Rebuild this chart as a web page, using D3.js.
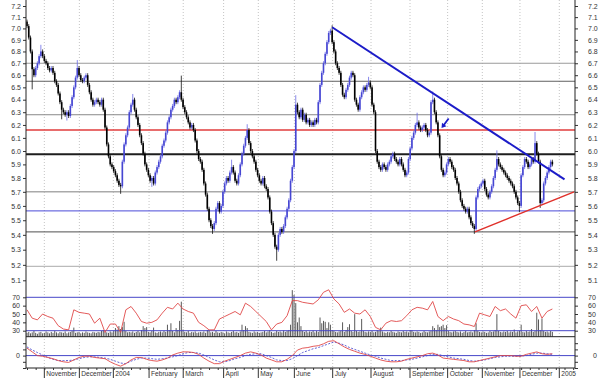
<!DOCTYPE html>
<html>
<head>
<meta charset="utf-8">
<script src="https://cdn.jsdelivr.net/npm/d3@7"></script>
<style>
body { margin: 0; background: #fff; }
svg text { font-family: "Liberation Sans", Arial, sans-serif; font-size: 7px; fill: #333; }
</style>
</head>
<body>
<svg id="chart" width="600" height="378"></svg>
<script>
// daily closes, one per trading day (Oct 2003 - Dec 2004)
const closes = [
    7.02, 6.92, 6.80, 6.65, 6.60, 6.66, 6.70, 6.76, 6.80, 6.76,
    6.72, 6.70, 6.66, 6.64, 6.66, 6.62, 6.55, 6.52, 6.45, 6.38,
    6.32, 6.30, 6.28, 6.30, 6.27, 6.35, 6.42, 6.50, 6.58, 6.66,
    6.60, 6.56, 6.55, 6.58, 6.60, 6.52, 6.46, 6.40, 6.36, 6.38,
    6.40, 6.38, 6.36, 6.40, 6.32, 6.18, 6.05, 5.96, 5.90, 5.88,
    5.85, 5.82, 5.78, 5.75, 5.74, 5.92, 6.05, 6.12, 6.18, 6.30,
    6.36, 6.40, 6.32, 6.26, 6.20, 6.12, 6.06, 5.98, 5.90, 5.86,
    5.82, 5.78, 5.80, 5.76, 5.84, 5.88, 5.92, 5.96, 6.04, 6.08,
    6.14, 6.22, 6.26, 6.32, 6.35, 6.40, 6.38, 6.42, 6.46, 6.40,
    6.34, 6.30, 6.26, 6.22, 6.18, 6.20, 6.16, 6.08, 6.00, 5.94,
    5.92, 5.86, 5.76, 5.68, 5.58, 5.50, 5.46, 5.44, 5.48, 5.58,
    5.62, 5.56, 5.60, 5.70, 5.76, 5.80, 5.78, 5.84, 5.88, 5.84,
    5.78, 5.76, 5.82, 5.90, 5.98, 6.04, 6.10, 6.16, 6.06, 6.00,
    5.96, 5.92, 5.86, 5.82, 5.78, 5.76, 5.80, 5.74, 5.72, 5.66,
    5.56, 5.48, 5.40, 5.32, 5.30, 5.40, 5.44, 5.42, 5.46, 5.52,
    5.58, 5.64, 5.78, 5.88, 6.00, 6.36, 6.30, 6.26, 6.32, 6.24,
    6.28, 6.22, 6.24, 6.20, 6.22, 6.20, 6.24, 6.22, 6.38, 6.52,
    6.62, 6.70, 6.78, 6.88, 6.96, 6.98, 6.88, 6.80, 6.70, 6.66,
    6.62, 6.52, 6.44, 6.42, 6.48, 6.52, 6.58, 6.62, 6.60, 6.40,
    6.36, 6.32, 6.42, 6.46, 6.50, 6.48, 6.52, 6.54, 6.50, 6.36,
    6.30, 6.00, 5.92, 5.88, 5.86, 5.90, 5.88, 5.86, 5.90, 5.92,
    5.96, 5.98, 5.94, 5.92, 5.90, 5.94, 5.90, 5.86, 5.82, 5.84,
    5.94, 6.02, 6.10, 6.14, 6.20, 6.22, 6.18, 6.16, 6.18, 6.20,
    6.16, 6.12, 6.14, 6.38, 6.40, 6.30, 6.22, 6.12, 5.96, 5.86,
    5.82, 5.84, 5.90, 5.94, 5.92, 5.88, 5.86, 5.80, 5.76, 5.70,
    5.64, 5.60, 5.58, 5.56, 5.58, 5.52, 5.48, 5.46, 5.44, 5.66,
    5.72, 5.74, 5.76, 5.78, 5.72, 5.68, 5.66, 5.70, 5.74, 5.80,
    5.86, 5.94, 5.90, 5.88, 5.86, 5.84, 5.82, 5.80, 5.78, 5.76,
    5.74, 5.70, 5.66, 5.62, 5.60, 5.82, 5.88, 5.94, 5.92, 5.88,
    5.90, 5.94, 5.92, 6.06, 5.98, 5.92, 5.62, 5.64, 5.76, 5.80,
    5.84, 5.88, 5.92, 5.90
];
const firstOpen = 7.06;

// long shadows that stick out of the bodies
const wicks = [
    { i: 3, lo: 6.50 }, { i: 8, hi: 6.84 }, { i: 20, lo: 6.26 }, { i: 23, lo: 6.25 },
    { i: 29, hi: 6.71 }, { i: 54, lo: 5.70 }, { i: 61, hi: 6.43 }, { i: 72, lo: 5.75 },
    { i: 89, hi: 6.58 }, { i: 107, lo: 5.42 }, { i: 118, hi: 5.92 }, { i: 127, hi: 6.19 },
    { i: 144, lo: 5.24 }, { i: 155, hi: 6.42 }, { i: 176, hi: 7.01 }, { i: 197, hi: 6.57 },
    { i: 225, hi: 6.28 }, { i: 234, hi: 6.45 }, { i: 258, lo: 5.42 }, { i: 271, hi: 5.99 },
    { i: 284, lo: 5.57 }, { i: 293, hi: 6.13 }, { i: 296, lo: 5.60 }
];

const volumes = [
    8,10,7,9,12,8,6,9,10,7, 8,11,9,7,10,8,12,9,7,10,
    9,8,11,7,9,10,12,19,8,9, 10,7,9,8,11,9,8,7,10,9,
    8,10,9,12,14,10,9,8,11,9, 12,18,15,22,16,20,31,12,9,10,
    9,11,8,10,12,9,14,22,18,20, 10,9,12,19,9,8,10,11,9,12,
    10,25,14,28,12,9,18,14,33,73, 15,10,9,12,8,10,9,11,8,9,
    10,9,11,8,14,14,9,10,8,12, 9,8,10,9,7,11,9,8,10,12,
    9,10,8,11,25,14,22,18,10,9, 8,11,9,10,8,9,10,12,9,11,
    14,10,8,9,12,10,11,9,13,10, 12,14,25,97,87,70,30,40,22,12,
    10,12,9,11,10,13,9,12,10,40, 28,33,31,18,30,25,14,12,10,9,
    11,12,30,10,14,20,26,12,10,47, 12,10,11,37,12,10,9,11,10,12,
    9,10,14,12,19,11,9,8,10,9, 12,10,9,8,11,10,9,12,10,11,
    9,14,14,10,9,11,10,8,9,12, 10,9,11,12,22,18,14,25,20,22,
    25,18,24,12,10,9,11,12,10,9, 11,8,10,12,9,10,11,9,14,28,
    12,10,9,11,10,8,9,12,10,11, 14,47,12,10,9,11,10,12,9,11,
    10,15,9,11,12,25,10,9,12,10, 11,16,10,12,50,36,14,38,12,10,
    11,9,12,10
];

// indicators read every 3rd trading day
const step = 3;
const rsi = [
    55,45,43,50,47,45,36,32,31,55, 52,51,50,39,45,28,38,38,28,55,
    59,51,41,39,40,43,51,58,56,63, 56,53,51,40,36,31,31,44,47,50,
    53,49,63,59,53,47,41,31,38,40, 48,66,66,64,63,62,67,76,79,68,
    62,52,56,51,50,55,47,34,31,39, 42,41,42,48,55,58,57,55,65,47,
    42,47,44,42,38,37,35,51,49,47, 59,54,56,50,45,60,61,53,59,45,
    53,56
];
const macd = [
    0.12,0.06,0.00,-0.01,-0.03,-0.05,-0.08,-0.10,-0.11,-0.07,
    -0.03,-0.01,-0.01,-0.03,-0.04,-0.05,-0.10,-0.14,-0.17,-0.13,
    -0.07,-0.03,-0.03,-0.06,-0.08,-0.09,-0.07,-0.04,0.01,0.04,
    0.06,0.06,0.05,0.02,-0.04,-0.09,-0.13,-0.13,-0.09,-0.06,
    -0.03,0.00,0.04,0.06,0.04,0.01,-0.04,-0.07,-0.10,-0.10,
    -0.06,0.00,0.09,0.12,0.13,0.15,0.16,0.19,0.23,0.24,
    0.19,0.14,0.10,0.07,0.04,0.02,-0.01,-0.04,-0.07,-0.09,
    -0.10,-0.10,-0.09,-0.06,-0.04,-0.02,0.00,0.03,0.04,0.01,
    -0.04,-0.05,-0.06,-0.07,-0.08,-0.10,-0.10,-0.08,-0.06,-0.04,
    -0.02,0.00,0.00,0.00,-0.01,-0.01,0.02,0.04,0.06,0.03,
    0.02,0.03
];
const signal = [
    0.14,0.09,0.05,0.01,-0.03,-0.06,-0.08,-0.08,-0.08,-0.07,
    -0.05,-0.03,-0.02,-0.02,-0.03,-0.04,-0.06,-0.09,-0.12,-0.13,
    -0.09,-0.06,-0.04,-0.04,-0.05,-0.06,-0.05,-0.04,-0.02,0.00,
    0.03,0.05,0.05,0.04,0.01,-0.03,-0.07,-0.10,-0.10,-0.08,
    -0.05,-0.03,0.00,0.02,0.03,0.03,0.00,-0.03,-0.07,-0.08,
    -0.08,-0.05,0.00,0.05,0.08,0.11,0.13,0.16,0.19,0.22,
    0.20,0.17,0.13,0.10,0.07,0.04,0.01,-0.01,-0.04,-0.06,
    -0.08,-0.08,-0.08,-0.07,-0.06,-0.04,-0.02,0.00,0.02,0.02,
    0.00,-0.02,-0.04,-0.05,-0.06,-0.08,-0.09,-0.08,-0.07,-0.05,
    -0.03,-0.02,-0.01,-0.01,-0.01,-0.01,0.00,0.02,0.04,0.04,
    0.03,0.02
];

// month boundaries in trading-day units
const monthStarts = [10, 30.2, 49.8, 70.4, 90.1, 113.4, 133.4, 154.2, 176.3, 198.4, 220.9, 242.6, 262.6, 284.3, 307];
const monthLabels = ["November", "December", "2004", "February", "March", "April", "May", "June",
    "July", "August", "September", "October", "November", "December", "2005"];

const priceTicks = [5.1, 5.2, 5.3, 5.4, 5.5, 5.6, 5.7, 5.8, 5.9, 6.0, 6.1, 6.2, 6.3, 6.4, 6.5, 6.6, 6.7, 6.8, 6.9, 7.0, 7.1, 7.2];
const rsiTicks = [30, 40, 50, 60, 70];
const rsiBands = [30, 70];
const macdTicks = [-0.2, -0.1, 0, 0.1, 0.2];

// support / resistance levels
const levels = [6.70, 6.55, 6.28, 6.16, 5.975, 5.70, 5.565, 5.42, 5.19];
const levelStyles = [
    { c: "#9a9a9a", w: 1 }, { c: "#606060", w: 1 }, { c: "#888", w: 1 },
    { c: "#e03c3c", w: 1.5 }, { c: "#1e1e1e", w: 2 }, { c: "#aaa", w: 1.5 },
    { c: "#4a4ad8", w: 1 }, { c: "#505050", w: 1 }, { c: "#bbb", w: 1.2 }
];

// trend lines as [trading day, price]
const trendDown = [[176, 7.01], [310, 5.79]];
const trendUp = [[258.4, 5.42], [315.5, 5.70]];
const arrowPts = [[243.2, 6.25], [239.6, 6.185]]; // tail -> tip

const svg = d3.select("#chart");
const left = 26, right = 575;

const x = d3.scaleLinear().domain([0, 307]).range([27, 559.3]);
const y = d3.scaleLog().domain([5.1, 7.2]).range([280.3, 6]);
const yRsi = d3.scaleLinear().domain([30, 70]).range([330.7, 297.3]);
const yVol = d3.scaleLinear().domain([0, 100]).range([336.7, 288.7]);
const yMacd = d3.scaleLinear().domain([-0.2, 0.3]).range([368, 337]);

// month grid
svg.append("g").selectAll("line")
    .data(monthStarts)
    .enter().append("line")
    .attr("x1", d => x(d)).attr("x2", d => x(d))
    .attr("y1", 0).attr("y2", 368)
    .style("stroke", "#c4c4c4")
    .style("stroke-dasharray", "1,2");

// horizontal levels
svg.append("g").selectAll("line")
    .data(levels)
    .enter().append("line")
    .attr("x1", left).attr("x2", right)
    .attr("y1", d => y(d)).attr("y2", d => y(d))
    .style("stroke", (d, i) => levelStyles[i].c)
    .style("stroke-width", (d, i) => levelStyles[i].w);

// candles
const bars = closes.map((c, i) => {
    const o = i ? closes[i - 1] : firstOpen;
    const w = wicks.find(k => k.i === i) || {};
    return { i, o, c, hi: w.hi || Math.max(o, c), lo: w.lo || Math.min(o, c) };
});

const candles = svg.append("g");
candles.selectAll("line")
    .data(bars)
    .enter().append("line")
    .attr("x1", d => x(d.i)).attr("x2", d => x(d.i))
    .attr("y1", d => y(d.hi) - 2).attr("y2", d => y(d.lo) + 2)
    .style("stroke", d => d.c >= d.o ? "#6a6ae6" : "#111")
    .style("stroke-width", 0.8);
candles.selectAll("rect")
    .data(bars)
    .enter().append("rect")
    .attr("x", d => x(d.i) - 0.8)
    .attr("width", 1.6)
    .attr("y", d => y(Math.max(d.o, d.c)))
    .attr("height", d => Math.max(1, Math.abs(y(d.o) - y(d.c))))
    .style("fill", d => d.c >= d.o ? "#4646d2" : "#000");

// trend lines
svg.append("line")
    .attr("x1", x(trendDown[0][0])).attr("y1", y(trendDown[0][1]))
    .attr("x2", x(trendDown[1][0])).attr("y2", y(trendDown[1][1]))
    .style("stroke", "#1c1cc8").style("stroke-width", 2);
svg.append("line")
    .attr("x1", x(trendUp[0][0])).attr("y1", y(trendUp[0][1]))
    .attr("x2", x(trendUp[1][0])).attr("y2", y(trendUp[1][1]))
    .style("stroke", "#e0302a").style("stroke-width", 1.5);

// little arrow pointing down-left
const [ax0, ay0] = [x(arrowPts[0][0]), y(arrowPts[0][1])];
const [ax1, ay1] = [x(arrowPts[1][0]), y(arrowPts[1][1])];
const len = Math.hypot(ax1 - ax0, ay1 - ay0);
const ux = (ax1 - ax0) / len, uy = (ay1 - ay0) / len;
svg.append("line")
    .attr("x1", ax0).attr("y1", ay0)
    .attr("x2", ax1 - ux * 2).attr("y2", ay1 - uy * 2)
    .style("stroke", "#1c1cc8").style("stroke-width", 1.8);
svg.append("path")
    .attr("d", d3.line()([
        [ax1 + ux * 1.5, ay1 + uy * 1.5],
        [ax1 - ux * 3 - uy * 2.8, ay1 - uy * 3 + ux * 2.8],
        [ax1 - ux * 3 + uy * 2.8, ay1 - uy * 3 - ux * 2.8]
    ]) + "Z")
    .style("fill", "#1c1cc8");

// volume
svg.append("g").selectAll("rect")
    .data(volumes)
    .enter().append("rect")
    .attr("x", (d, i) => x(i) - 0.5)
    .attr("width", 1)
    .attr("y", d => yVol(d))
    .attr("height", d => yVol(0) - yVol(d))
    .style("fill", "#5a5a5a");

// RSI bands + line
svg.append("g").selectAll("line")
    .data(rsiBands)
    .enter().append("line")
    .attr("x1", left).attr("x2", right)
    .attr("y1", d => yRsi(d)).attr("y2", d => yRsi(d))
    .style("stroke", "#4646c8");
svg.append("path")
    .datum(rsi)
    .attr("d", d3.line().x((d, i) => x(i * step)).y(d => yRsi(d)))
    .style("fill", "none").style("stroke", "#e04848").style("stroke-width", 0.9);

// volume baseline
svg.append("line")
    .attr("x1", left).attr("x2", right)
    .attr("y1", yVol(0)).attr("y2", yVol(0))
    .style("stroke", "#222");

// MACD
svg.append("line")
    .attr("x1", left).attr("x2", right)
    .attr("y1", yMacd(0)).attr("y2", yMacd(0))
    .style("stroke", "#4646c8");
svg.append("path")
    .datum(signal)
    .attr("d", d3.line().x((d, i) => x(i * step)).y(d => yMacd(d)))
    .style("fill", "none").style("stroke", "#5050d0").style("stroke-width", 0.9)
    .style("stroke-dasharray", "2,1.5");
svg.append("path")
    .datum(macd)
    .attr("d", d3.line().x((d, i) => x(i * step)).y(d => yMacd(d)))
    .style("fill", "none").style("stroke", "#e04848").style("stroke-width", 0.9);

// axes
function tidy(g) {
    g.select(".domain").remove();
    g.selectAll(".tick line").style("stroke", "#333");
    g.selectAll("text").attr("font-family", null).attr("font-size", null);
}
svg.append("g").attr("transform", `translate(${left},0)`)
    .call(d3.axisLeft(y).tickValues(priceTicks).tickSize(3).tickPadding(2).tickFormat(d3.format(".1f")))
    .call(tidy);
svg.append("g").attr("transform", `translate(${right},0)`)
    .call(d3.axisRight(y).tickValues(priceTicks).tickSize(3).tickPadding(10).tickFormat(d3.format(".1f")))
    .call(tidy);
svg.append("g").attr("transform", `translate(${left},0)`)
    .call(d3.axisLeft(yRsi).tickValues(rsiTicks).tickSize(3).tickPadding(3))
    .call(tidy);
svg.append("g").attr("transform", `translate(${right},0)`)
    .call(d3.axisRight(yRsi).tickValues(rsiTicks).tickSize(3).tickPadding(10))
    .call(tidy);
svg.append("g").attr("transform", `translate(${left},0)`)
    .call(d3.axisLeft(yMacd).tickValues(macdTicks).tickSize(3).tickPadding(3)
        .tickFormat(d => d === 0 ? "0" : ""))
    .call(tidy);
svg.append("g").attr("transform", `translate(${right},0)`)
    .call(d3.axisRight(yMacd).tickValues(macdTicks).tickSize(3).tickPadding(15)
        .tickFormat(d => d === 0 ? "0" : ""))
    .call(tidy);

// frame
[left, right].forEach(px => {
    svg.append("line")
        .attr("x1", px).attr("x2", px).attr("y1", 0).attr("y2", 368)
        .style("stroke", "#222");
});
svg.append("line")
    .attr("x1", left).attr("x2", right).attr("y1", 368).attr("y2", 368)
    .style("stroke", "#222");

// bottom time axis
svg.append("g").attr("transform", "translate(0,368)")
    .call(d3.axisBottom(x).tickValues(d3.range(0, 316, 5)).tickSize(2).tickFormat(""))
    .call(tidy);
const months = svg.append("g");
months.selectAll("line")
    .data(monthStarts)
    .enter().append("line")
    .attr("x1", d => x(d)).attr("x2", d => x(d))
    .attr("y1", 368).attr("y2", 378)
    .style("stroke", "#333");
months.selectAll("text")
    .data(monthLabels)
    .enter().append("text")
    .attr("x", (d, i) => x(monthStarts[i]) + 2)
    .attr("y", 376)
    .style("font-size", "6.6px")
    .text(d => d);
</script>
</body>
</html>
